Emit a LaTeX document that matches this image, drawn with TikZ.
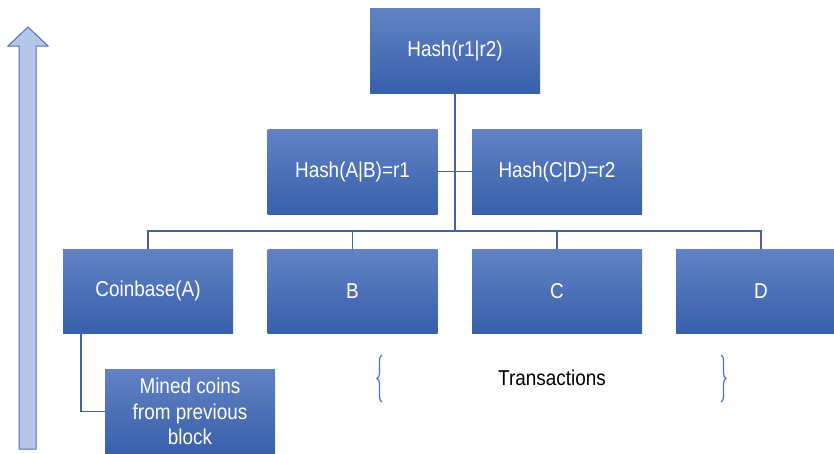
\documentclass[tikz,border=0pt]{standalone}
\usepackage{fontspec}
\setmainfont[FakeStretch=0.88]{Liberation Sans}
\usetikzlibrary{decorations.pathreplacing}
\definecolor{boxtop}{RGB}{98,130,196}
\definecolor{boxbot}{RGB}{56,96,172}
\definecolor{linec}{RGB}{66,98,160}
\definecolor{bracec}{RGB}{68,114,196}
\definecolor{arrowfill}{RGB}{180,199,231}
\definecolor{arrowline}{RGB}{80,112,176}
\tikzset{
  blockbox/.style={rectangle, inner sep=0pt, minimum width=170pt, minimum height=85pt,
    top color=boxtop, bottom color=boxbot, draw=none, text=white,
    font=\fontsize{21.5}{25.5}\selectfont, align=center},
  conn/.style={draw=linec, line width=1.3pt},
  bracestyle/.style={draw=bracec, line width=1.2pt, decorate,
    decoration={brace, amplitude=5pt}},
}
\begin{document}
\begin{tikzpicture}[x=1pt, y=-1pt]
\useasboundingbox (0,0) rectangle (834,453);
% up arrow
\filldraw[fill=arrowfill, draw=arrowline, line width=1pt]
  (19,449) -- (19,46) -- (8,46) -- (28,27) -- (48,46) -- (36,46) -- (36,449) -- cycle;
% boxes
\node[blockbox] (top) at (455,50.5) {Hash(r1|r2)};
\node[blockbox] (r1) at (352.5,171.5) {Hash(A|B)=r1};
\node[blockbox] (r2) at (557,171.5) {Hash(C|D)=r2};
\node[blockbox, minimum height=84pt] (A) at (148,291) {Coinbase(A)};
\node[blockbox, minimum height=84pt] (B) at (352.5,291) {B};
\node[blockbox, minimum height=84pt] (C) at (557,291) {C};
\node[blockbox, minimum height=84pt] (D) at (761,291) {D};
\node[blockbox] (mined) at (190,411.5) {Mined coins\\from previous\\block};
% connectors
\coordinate (busy) at (455,231);
\draw[conn] (top.south) -- (busy);
\draw[conn] (r1.east) -- (r2.west);
\draw[conn] (A.north) |- (busy) -| (D.north);
\draw[conn] (B.north) -- (B.north |- busy);
\draw[conn] (C.north) -- (C.north |- busy);
\draw[conn] ([xshift=-67pt]A.south) |- (mined.west);
% braces and label
\coordinate (lb1) at (382,402);
\coordinate (lb2) at (382,355);
\coordinate (rb1) at (721,355);
\coordinate (rb2) at (721,402);
\draw[bracestyle] (lb1) -- (lb2);
\draw[bracestyle] (rb1) -- (rb2);
\node[font=\fontsize{21.5}{25.5}\selectfont, text=black] (tx) at (552,378) {Transactions};
\end{tikzpicture}
\end{document}
